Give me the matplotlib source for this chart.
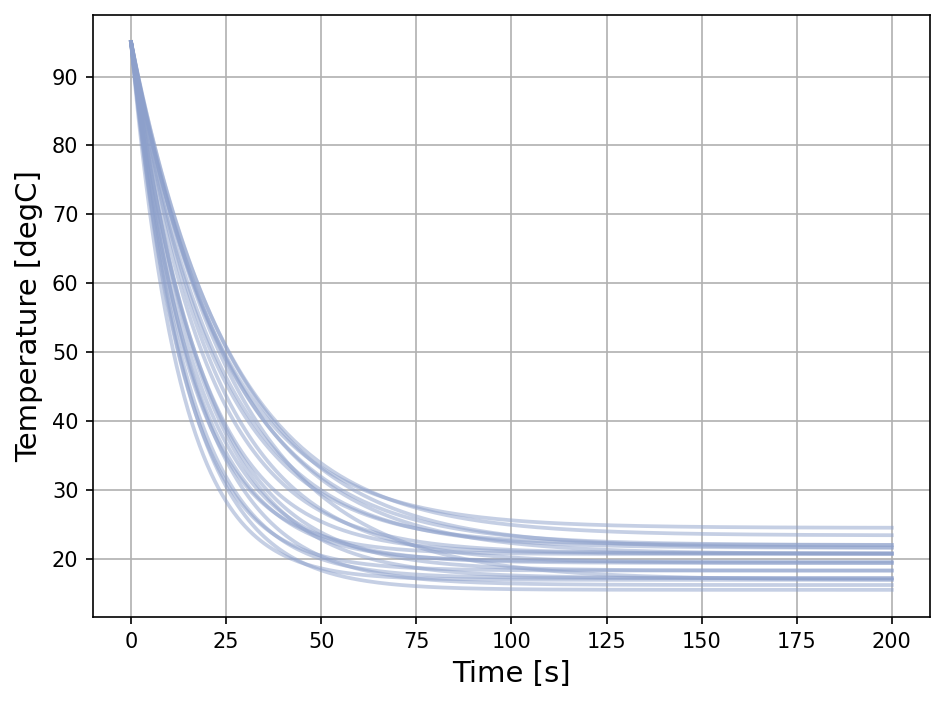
import numpy as np
import matplotlib
matplotlib.use("Agg")
from matplotlib import pyplot as plt

# start temperature and simulated time span
T_start = 95.0
t_end = 200

# ambient temperature each run settles to [degC]
ambient = [24.5, 23.4, 22.0, 21.6, 20.8, 20.7, 19.6, 19.4, 18.3, 17.2,
           16.95, 16.2, 15.5, 20.8, 21.6, 17.2, 16.95, 22.0, 20.7, 19.4, 18.3]
# cooling time constant of each run [s]
tau = [24, 26, 22, 27, 20, 26, 16, 22, 19, 15,
       27, 17, 15, 18, 23, 19, 13, 25, 15, 17, 14]

t = np.arange(0, t_end + 1, 1.0)

fig, ax = plt.subplots(figsize=(944 / 150, 703 / 150), dpi=150)
for Ta, k in zip(ambient, tau):
    # Newton cooling for each run
    T = Ta + (T_start - Ta) * np.exp(-t / k)
    ax.plot(t, T, color="#8da0cb", alpha=0.5, lw=1.8)

ax.set_xlabel("Time [s]", fontsize=14)
ax.set_ylabel("Temperature [degC]", fontsize=14)
ax.grid(True)
ax.set_axisbelow(True)
fig.subplots_adjust(left=0.0985, right=0.985, bottom=0.122, top=0.979)
plt.savefig("out.png", dpi=150)
